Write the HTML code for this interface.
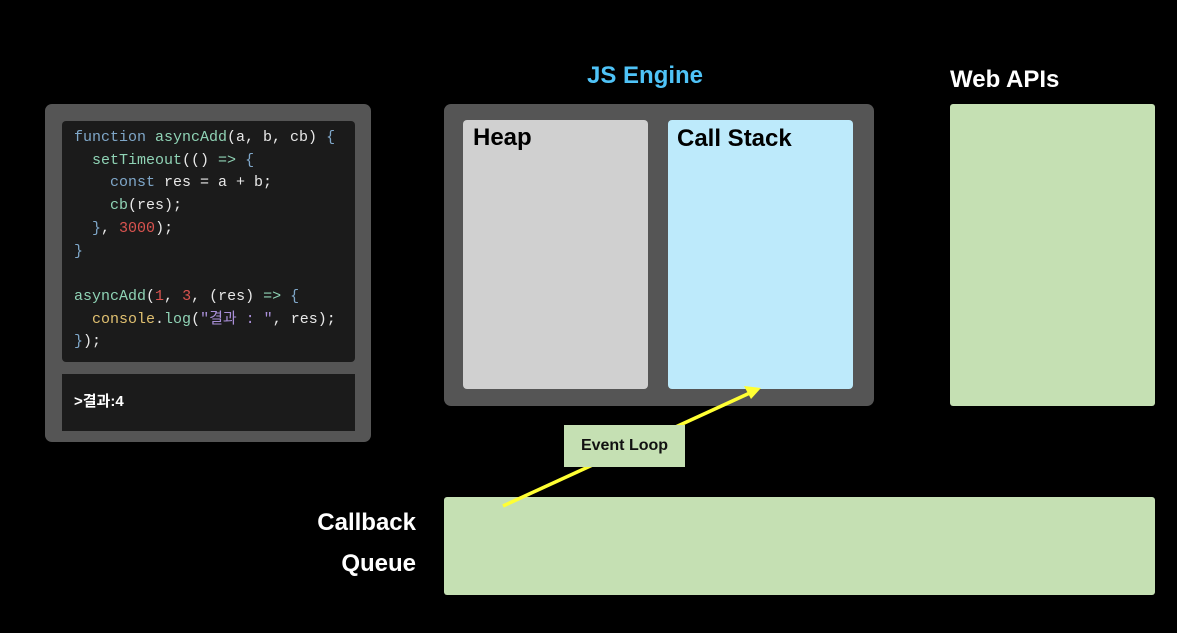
<!DOCTYPE html>
<html><head><meta charset="utf-8"><style>
body{margin:0;width:1177px;height:633px;background:#000;position:relative;overflow:hidden;font-family:"Liberation Sans","Noto Sans CJK KR",sans-serif}
.a{position:absolute}
pre{margin:0;font-family:"Liberation Mono","Noto Sans CJK KR",monospace;font-size:15px;line-height:22.7px;color:#e8e8e8}
.k{color:#7fa7c9}.f{color:#8fd3b5}.n{color:#d9534f}.y{color:#e0c070}.s{color:#a98fd8}
</style></head><body>
<div class="a" style="left:45px;top:104px;width:326px;height:338px;background:#555;border-radius:7px"></div>
<div class="a" style="left:62px;top:121px;width:293px;height:241px;background:#1b1b1b;border-radius:4px"></div>
<div class="a" style="left:62px;top:374px;width:293px;height:57px;background:#1b1b1b"></div>
<pre class="a" style="left:74px;top:127px"><span class="k">function</span> <span class="f">asyncAdd</span>(a, b, cb) <span class="k">{</span>
  <span class="f">setTimeout</span>(() <span class="f">=&gt;</span> <span class="k">{</span>
    <span class="k">const</span> res = a + b;
    <span class="f">cb</span>(res);
  <span class="k">}</span>, <span class="n">3000</span>);
<span class="k">}</span>

<span class="f">asyncAdd</span>(<span class="n">1</span>, <span class="n">3</span>, (res) <span class="f">=&gt;</span> <span class="k">{</span>
  <span class="y">console</span>.<span class="f">log</span>(<span class="s">"결과 : "</span>, res);
<span class="k">}</span>);</pre>
<div class="a" style="left:74px;top:390px;color:#fff;font-size:15px;font-weight:bold">&gt;결과:4</div>

<div class="a" style="left:587px;top:62px;color:#4fc3f7;font-size:24px;font-weight:bold">JS Engine</div>
<div class="a" style="left:950px;top:66px;color:#fff;font-size:24px;font-weight:bold">Web APIs</div>
<div class="a" style="left:444px;top:104px;width:430px;height:302px;background:#555;border-radius:7px"></div>
<div class="a" style="left:463px;top:120px;width:185px;height:269px;background:#d0d0d0;border-radius:4px"></div>
<div class="a" style="left:668px;top:120px;width:185px;height:269px;background:#bdeafb;border-radius:4px"></div>
<div class="a" style="left:473px;top:124px;font-size:24px;font-weight:bold;color:#000">Heap</div>
<div class="a" style="left:677px;top:125px;font-size:24px;font-weight:bold;color:#000">Call Stack</div>
<div class="a" style="left:950px;top:104px;width:205px;height:302px;background:#c5e0b3;border-radius:3px"></div>
<div class="a" style="left:444px;top:497px;width:711px;height:98px;background:#c5e0b3;border-radius:3px"></div>
<div class="a" style="left:290px;top:502px;width:126px;text-align:right;color:#fff;font-size:24px;font-weight:bold;line-height:41px">Callback<br>Queue</div>
<svg class="a" style="left:0;top:0" width="1177" height="633">
<line x1="503" y1="506" x2="752" y2="392" stroke="#ffff33" stroke-width="3.5"/>
<polygon points="761,388 744,386 751,399" fill="#ffff33"/>
</svg>
<div class="a" style="left:564px;top:425px;width:121px;height:42px;background:#c5e0b3;font-size:16px;font-weight:bold;color:#111;text-align:center;line-height:42px">Event Loop</div>
</body></html>
